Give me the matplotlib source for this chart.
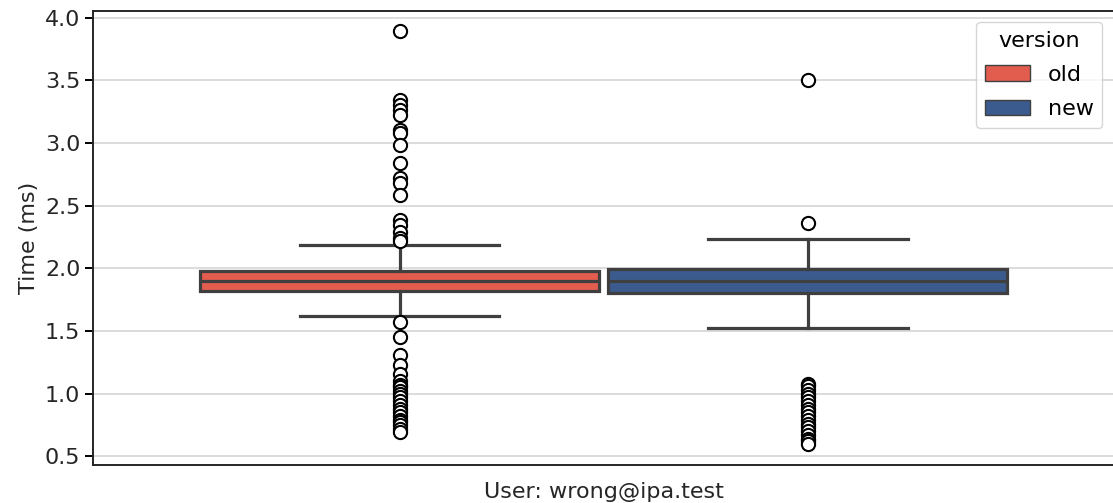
import matplotlib
matplotlib.use("Agg")
import matplotlib.pyplot as plt
from matplotlib.patches import Patch

versions = ["old", "new"]
colors = ["#e35d4f", "#3b5b8f"]
q1 = [1.818, 1.802]
med = [1.898, 1.900]
q3 = [1.978, 1.994]
whislo = [1.618, 1.522]
whishi = [2.185, 2.233]
fliers_old = [3.89, 3.345, 3.305, 3.265, 3.225, 3.105, 3.08, 2.985, 2.84, 2.72, 2.68,
              2.585, 2.385, 2.345, 2.29, 2.24, 2.22,
              1.57, 1.45, 1.31, 1.23, 1.16, 1.10, 1.07, 1.05, 1.02, 1.00, 0.97,
              0.94, 0.91, 0.88, 0.85, 0.82, 0.79, 0.77, 0.75, 0.72, 0.69]
fliers_new = [3.50, 2.36,
              1.08, 1.06, 1.03, 1.00, 0.97, 0.94, 0.91, 0.88, 0.85, 0.82,
              0.79, 0.76, 0.73, 0.70, 0.67, 0.64, 0.62, 0.60]
fliers = [fliers_old, fliers_new]
positions = [-0.2, 0.2]
xlabel = "User: wrong@ipa.test"
ylabel = "Time (ms)"

fig, ax = plt.subplots(figsize=(11.13, 5.03), dpi=100)
fig.subplots_adjust(left=0.084, right=1.0005, top=0.979, bottom=0.075)

edge = "#3f3f3f"
lw = 2.3
stats = []
for i in range(2):
    stats.append(dict(med=med[i], q1=q1[i], q3=q3[i], whislo=whislo[i],
                      whishi=whishi[i], fliers=fliers[i], label=versions[i]))

bp = ax.bxp(stats, positions=positions, widths=0.392, patch_artist=True,
            manage_ticks=False,
            boxprops=dict(edgecolor=edge, linewidth=lw),
            medianprops=dict(color=edge, linewidth=lw),
            whiskerprops=dict(color=edge, linewidth=lw),
            capprops=dict(color=edge, linewidth=lw),
            flierprops=dict(marker="o", markerfacecolor="white",
                            markeredgecolor="black", markersize=9.5,
                            markeredgewidth=1.5))
for patch, c in zip(bp["boxes"], colors):
    patch.set_facecolor(c)

fs = 16
ax.set_xlim(-0.5, 0.5)
ax.set_ylim(0.428, 4.056)
ax.set_yticks([0.5, 1.0, 1.5, 2.0, 2.5, 3.0, 3.5, 4.0])
ax.set_xticks([])
ax.yaxis.grid(True, color="#d9d9d9", linewidth=1.3)
ax.set_axisbelow(True)
for s in ax.spines.values():
    s.set_linewidth(1.4)
    s.set_color("#262626")
ax.spines["right"].set_color("#cccccc")
ax.set_xlabel(xlabel, fontsize=fs, color="#262626", labelpad=12)
ax.set_ylabel(ylabel, fontsize=fs, color="#262626")
ax.tick_params(axis="y", labelsize=fs, labelcolor="#262626", width=1.4, length=6)

handles = [Patch(facecolor=c, edgecolor=edge, label=v) for v, c in zip(versions, colors)]
ax.legend(handles=handles, title="version", loc="upper right", fontsize=fs,
          title_fontsize=fs, labelspacing=0.65)

fig.savefig("out.png", dpi=100)
